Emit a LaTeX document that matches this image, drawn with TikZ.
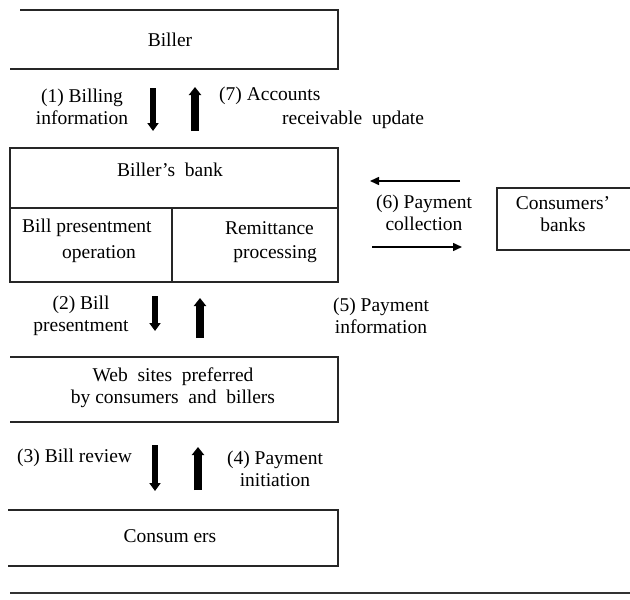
\documentclass[tikz,border=0pt]{standalone}
\usepackage{fontspec}
\setmainfont{Liberation Serif}
\usetikzlibrary{arrows.meta}
\begin{document}
\begin{tikzpicture}[x=1pt,y=-1pt,
  boxline/.style={draw=black!85,line width=1.4pt},
  lbl/.style={inner sep=0pt,font=\fontsize{19.5}{22}\selectfont,align=center},
  fatdown/.style={line width=6pt,-{Triangle[width=11pt,length=8pt]}},
  fatup/.style={line width=8pt,-{Triangle[width=12pt,length=8pt]}},
  thinarr/.style={line width=1.5pt,-{Triangle[width=8pt,length=9pt]}}]
\useasboundingbox (0,0) rectangle (630,600);
% Biller
\draw[boxline] (20,10) -- (338,10) -- (338,69) -- (10,69);
\node[lbl] (biller) at (170,40) {Biller};
% arrows 1 and 7
\coordinate (a1s) at (153,88); \coordinate (a1e) at (153,131);
\draw[fatdown] (a1s) -- (a1e);
\coordinate (a7s) at (195,131); \coordinate (a7e) at (195,87);
\draw[fatup] (a7s) -- (a7e);
\node[lbl] (l1) at (82,107) {(1) Billing\\information};
\node[lbl,anchor=west] (l7a) at (219,96) {(7) Accounts};
\node[lbl,anchor=west] (l7b) at (282,120) {receivable\ \ update};
% Biller's bank
\draw[boxline] (10,148) rectangle (338,282);
\draw[boxline] (10,208) -- (338,208);
\draw[boxline] (172,208) -- (172,282);
\node[lbl] (bank) at (170,170) {Biller’s\ \ bank};
\node[lbl,anchor=west] (bpo1) at (22,228) {Bill presentment};
\node[lbl,anchor=west] (bpo2) at (62,254) {operation};
\node[lbl,anchor=east] (rp1) at (314,228) {Remittance};
\node[lbl,anchor=east] (rp2) at (317,254) {processing};
% consumers' banks
\draw[boxline] (630,188) -- (497,188) -- (497,250) -- (630,250);
\node[lbl] (cb) at (563,214) {Consumers’\\banks};
% arrows 6
\coordinate (a6s) at (460,181); \coordinate (a6e) at (370,181);
\draw[thinarr] (a6s) -- (a6e);
\coordinate (a6bs) at (372,247); \coordinate (a6be) at (462,247);
\draw[thinarr] (a6bs) -- (a6be);
\node[lbl] (l6) at (424,213) {(6) Payment\\collection};
% arrows 2 and 5
\coordinate (a2s) at (155,296); \coordinate (a2e) at (155,331);
\draw[fatdown] (a2s) -- (a2e);
\coordinate (a5s) at (200,338); \coordinate (a5e) at (200,298);
\draw[fatup] (a5s) -- (a5e);
\node[lbl] (l2) at (81,316) {(2) Bill\\presentment};
\node[lbl] (l5) at (381,316) {(5) Payment\\information};
% web sites
\draw[boxline] (10,357) -- (338,357) -- (338,422) -- (10,422);
\node[lbl] (web) at (173,388) {Web\ \ sites\ \ preferred\\by consumers\ \ and\ \ billers};
% arrows 3 and 4
\coordinate (a3s) at (155,445); \coordinate (a3e) at (155,491);
\draw[fatdown] (a3s) -- (a3e);
\coordinate (a4s) at (198,490); \coordinate (a4e) at (198,447);
\draw[fatup] (a4s) -- (a4e);
\node[lbl,anchor=west] (l3) at (17,458) {(3) Bill review};
\node[lbl] (l4) at (275,469) {(4) Payment\\initiation};
% consumers
\draw[boxline] (8,510) -- (338,510) -- (338,566) -- (8,566);
\node[lbl] (cons) at (170,536) {Consum ers};
% bottom rule
\draw[line width=1.2pt,black!80] (10,593) -- (630,593);
\end{tikzpicture}
\end{document}
